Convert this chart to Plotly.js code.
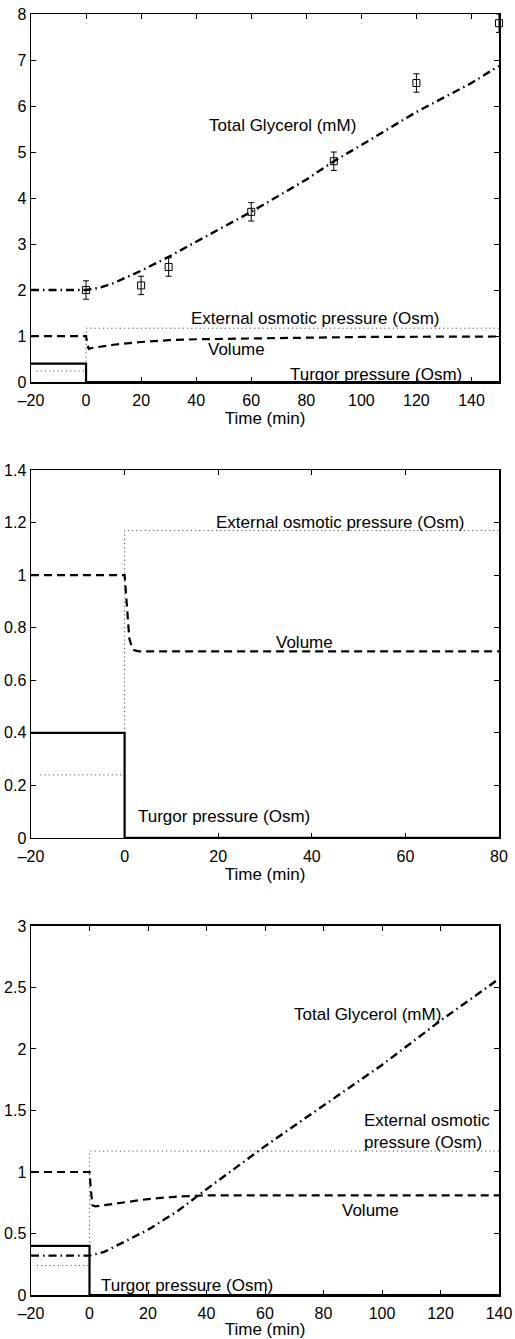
<!DOCTYPE html>
<html>
<head>
<meta charset="utf-8">
<script src="https://cdn.plot.ly/plotly-3.0.1.min.js"></script>
<style>html,body{margin:0;padding:0;background:#fff;}#chart{width:515px;height:1339px;}</style>
</head>
<body>
<div id="chart"></div>
<script>
// ---------- Panel 1 (0..150 min) ----------
const p1_glyT   = [-20, 0, 5, 10, 20, 30, 40, 60, 80, 90, 100, 120, 140, 150];
const p1_glyV   = [2.0, 2.0, 2.05, 2.15, 2.42, 2.72, 3.05, 3.7, 4.4, 4.8, 5.15, 5.87, 6.5, 6.87];
const p1_dataT  = [0, 20, 30, 60, 90, 120, 150];
const p1_dataV  = [2.0, 2.1, 2.5, 3.7, 4.8, 6.5, 7.8];
const p1_dataE  = [0.2, 0.2, 0.2, 0.2, 0.2, 0.2, 0.2];
const p1_extT   = [-18, 0, 0, 150];
const p1_extV   = [0.24, 0.24, 1.17, 1.17];
const p1_volT   = [-20, 0, 0.5, 1, 2, 5, 10, 20, 30, 40, 60, 80, 100, 150];
const p1_volV   = [1.0, 1.0, 0.8, 0.72, 0.74, 0.77, 0.81, 0.87, 0.91, 0.93, 0.95, 0.97, 0.98, 0.99];
const p1_turT   = [-20, 0, 0, 150];
const p1_turV   = [0.4, 0.4, 0, 0];

// ---------- Panel 2 (0..80 min) ----------
const p2_extT   = [-18, 0, 0, 80];
const p2_extV   = [0.24, 0.24, 1.17, 1.17];
const p2_volT   = [-20, 0, 0.3, 0.7, 1, 1.5, 2, 3, 80];
const p2_volV   = [1.0, 1.0, 0.93, 0.82, 0.76, 0.73, 0.715, 0.71, 0.71];
const p2_turT   = [-20, 0, 0, 80];
const p2_turV   = [0.4, 0.4, 0, 0];

// ---------- Panel 3 (0..140 min) ----------
const p3_glyT   = [-20, 0, 5, 10, 20, 30, 40, 60, 80, 100, 120, 140];
const p3_glyV   = [0.32, 0.32, 0.35, 0.41, 0.53, 0.68, 0.86, 1.21, 1.54, 1.87, 2.23, 2.57];
const p3_extT   = [-18, 0, 0, 140];
const p3_extV   = [0.24, 0.24, 1.17, 1.17];
const p3_volT   = [-20, 0, 0.5, 1, 2, 5, 10, 20, 30, 40, 60, 100, 140];
const p3_volV   = [1.0, 1.0, 0.85, 0.73, 0.72, 0.73, 0.75, 0.78, 0.80, 0.81, 0.81, 0.81, 0.81];
const p3_turT   = [-20, 0, 0, 140];
const p3_turV   = [0.4, 0.4, 0, 0];

const xTicks1 = [-20, 0, 20, 40, 60, 80, 100, 120, 140];
const xTicks2 = [-20, 0, 20, 40, 60, 80];
const xTicks3 = [-20, 0, 20, 40, 60, 80, 100, 120, 140];

const FONT = 'Liberation Sans, Arial, sans-serif';
const DASHDOT = '8px,4px,1.5px,4px';
const DASHED = '8px,5px';
const DOTTED = '1.2px,3px';

function lines(xa, ya, ext, vol, tur, gly) {
  const out = [];
  out.push({x: ext[0], y: ext[1], xaxis: xa, yaxis: ya, mode: 'lines', line: {color: '#555', width: 1, dash: DOTTED}, hoverinfo: 'skip'});
  out.push({x: vol[0], y: vol[1], xaxis: xa, yaxis: ya, mode: 'lines', line: {color: '#000', width: 2.2, dash: DASHED}, hoverinfo: 'skip'});
  out.push({x: tur[0], y: tur[1], xaxis: xa, yaxis: ya, mode: 'lines', line: {color: '#000', width: 2.2}, hoverinfo: 'skip'});
  if (gly) out.push({x: gly[0], y: gly[1], xaxis: xa, yaxis: ya, mode: 'lines', line: {color: '#000', width: 2.4, dash: DASHDOT}, hoverinfo: 'skip'});
  return out;
}

const traces = [
  ...lines('x', 'y', [p1_extT, p1_extV], [p1_volT, p1_volV], [p1_turT, p1_turV], [p1_glyT, p1_glyV]),
  {x: p1_dataT, y: p1_dataV, xaxis: 'x', yaxis: 'y', mode: 'markers', cliponaxis: false,
   marker: {symbol: 'square-open', size: 7, color: '#000', line: {width: 1, color: '#000'}},
   error_y: {type: 'data', array: p1_dataE, visible: true, color: '#000', thickness: 1, width: 3}},
  ...lines('x2', 'y2', [p2_extT, p2_extV], [p2_volT, p2_volV], [p2_turT, p2_turV], null),
  ...lines('x3', 'y3', [p3_extT, p3_extV], [p3_volT, p3_volV], [p3_turT, p3_turV], [p3_glyT, p3_glyV])
];

function fmt(v) { return v < 0 ? '\u2013' + Math.abs(v) : String(v); }

function xax(range, ticks, anchor) {
  return {range: range, tickvals: ticks, ticktext: ticks.map(fmt), anchor: anchor,
    showgrid: false, zeroline: false, showline: true, linecolor: '#000', linewidth: 1.5, mirror: 'ticks',
    ticks: 'inside', ticklen: 5, tickcolor: '#000', tickwidth: 1, ticklabelstandoff: 3,
    tickfont: {family: FONT, size: 16, color: '#000'},
    title: {text: 'Time (min)', font: {family: FONT, size: 17, color: '#000'}, standoff: 0}};
}
function yax(range, dtick, domain, anchor) {
  return {range: range, dtick: dtick, tick0: 0, domain: domain, anchor: anchor,
    showgrid: false, zeroline: false, showline: true, linecolor: '#000', linewidth: 1.5, mirror: 'ticks',
    ticks: 'inside', ticklen: 5, tickcolor: '#000', tickwidth: 1,
    tickfont: {family: FONT, size: 16, color: '#000'}};
}

function ann(xref, yref, x, y, text, xanchor) {
  return {xref: xref, yref: yref, x: x, y: y, text: text, showarrow: false,
    xanchor: xanchor || 'center', yanchor: 'middle', align: 'left',
    font: {family: FONT, size: 17, color: '#000'}};
}

const layout = {
  width: 515, height: 1339,
  margin: {l: 31, r: 16, t: 14, b: 44},
  paper_bgcolor: '#fff', plot_bgcolor: '#fff',
  showlegend: false,
  xaxis: xax([-20, 150], xTicks1, 'y'),
  yaxis: yax([0, 8], 1, [0.7127, 1.0], 'x'),
  xaxis2: xax([-20, 80], xTicks2, 'y2'),
  yaxis2: yax([0, 1.4], 0.2, [0.3568, 0.6440], 'x2'),
  xaxis3: xax([-20, 140], xTicks3, 'y3'),
  yaxis3: yax([0, 3], 0.5, [0, 0.2881], 'x3'),
  annotations: [
    ann('x', 'y', 71.5, 5.57, 'Total Glycerol (mM)'),
    ann('x', 'y', 83.2, 1.39, 'External osmotic pressure (Osm)'),
    ann('x', 'y', 54.8, 0.70, 'Volume'),
    ann('x', 'y', 105.3, 0.17, 'Turgor pressure (Osm)'),
    ann('x2', 'y2', 46.0, 1.20, 'External osmotic pressure (Osm)'),
    ann('x2', 'y2', 38.5, 0.745, 'Volume'),
    ann('x2', 'y2', 21.2, 0.08, 'Turgor pressure (Osm)'),
    ann('x3', 'y3', 95.2, 2.28, 'Total Glycerol (mM)'),
    ann('x3', 'y3', 93.2, 1.33, 'External osmotic<br>pressure (Osm)', 'left'),
    ann('x3', 'y3', 95.9, 0.69, 'Volume'),
    ann('x3', 'y3', 33.3, 0.08, 'Turgor pressure (Osm)')
  ]
};

Plotly.newPlot('chart', traces, layout, {staticPlot: true, displayModeBar: false});
</script>
</body>
</html>
